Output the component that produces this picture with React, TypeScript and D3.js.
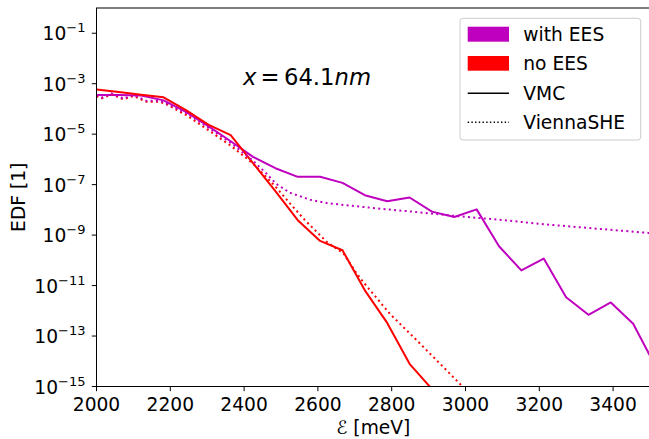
import React from "react";
import * as d3 from "d3";

// VMC energy grid (meV)
const energyVmc = [
  2000, 2060.6, 2121.2, 2181.8, 2242.4, 2303, 2363.6, 2424.2, 2484.8, 2545.4,
  2606, 2666.6, 2727.2, 2787.8, 2848.4, 2909, 2969.6, 3030.2, 3090.8, 3151.4,
  3212, 3272.6, 3333.2, 3393.8, 3454.4, 3515,
];
// log10(EDF)
const withEesVmc = [
  -3.45, -3.45, -3.47, -3.66, -4.12, -4.68, -5.28, -5.9, -6.35, -6.69, -6.69,
  -6.93, -7.42, -7.66, -7.51, -8.07, -8.28, -7.98, -9.44, -10.4, -9.93, -11.46,
  -12.16, -11.67, -12.51, -14.2,
];
const noEesVmc = [
  -3.23, -3.33, -3.44, -3.54, -4.05, -4.62, -5.04, -6.15, -7.26, -8.41, -9.23,
  -9.6, -11.19, -12.48, -14.1, -15.1,
];

// ViennaSHE curves (finer grid)
const energySheNoEes = [
  2000, 2014, 2041, 2073, 2100, 2136, 2172, 2190, 2244, 2303, 2366, 2424, 2484,
  2524, 2565, 2624, 2669, 2705, 2723, 2795, 2868, 2940, 2994, 3039,
];
const noEesShe = [
  -3.49, -3.58, -3.42, -3.62, -3.49, -3.72, -3.72, -3.82, -4.25, -4.84, -5.48,
  -6.16, -7.06, -7.74, -8.41, -9.27, -9.72, -10.52, -10.86, -12.12, -13.17,
  -14.23, -15.03, -15.67,
];
const energySheWithEes = [
  2000, 2014, 2041, 2073, 2100, 2136, 2172, 2190, 2244, 2303, 2366, 2424, 2457,
  2488, 2524, 2579, 2624, 2678, 2795, 2849, 2971, 3091, 3213, 3335, 3500,
];
const withEesShe = [
  -3.45, -3.55, -3.39, -3.59, -3.45, -3.68, -3.68, -3.79, -4.17, -4.74, -5.37,
  -6.05, -6.51, -6.98, -7.32, -7.6, -7.73, -7.82, -7.99, -8.06, -8.24, -8.39,
  -8.57, -8.72, -8.92,
];

const xTicks = [2000, 2200, 2400, 2600, 2800, 3000, 3200, 3400];
const yTickExps = [-1, -3, -5, -7, -9, -11, -13, -15];

const MAGENTA = "#bf00bf";
const RED = "#ff0000";
const FONT = "DejaVu Sans";

export default function App() {
  const width = 649;
  const height = 439;
  const left = 96.5, right = 650, top = 8, bottom = 386.5;

  const x = d3.scaleLinear().domain([2000, 3500]).range([left, right]);
  const y = d3.scaleLog().domain([1e-15, 1]).range([bottom, top]);

  const line = d3
    .line<[number, number]>()
    .x((d) => x(d[0]))
    .y((d) => y(Math.pow(10, d[1])));

  const zip = (es: number[], vs: number[]) =>
    vs.map((v, i) => [es[i], v] as [number, number]);

  const series = [
    { data: zip(energyVmc, withEesVmc), color: MAGENTA, dash: null },
    { data: zip(energyVmc, noEesVmc), color: RED, dash: null },
    { data: zip(energySheNoEes, noEesShe), color: RED, dash: "2 3.3" },
    { data: zip(energySheWithEes, withEesShe), color: MAGENTA, dash: "2 3.3" },
  ];

  const fs = 18.67;
  const legendX = 467.7;
  const legendText = 523.3;

  return (
    <svg
      width={width}
      height={height}
      style={{ position: "absolute", left: 0, top: 0, background: "#fff" }}
      fontFamily={FONT}
    >
      <defs>
        <clipPath id="plot">
          <rect x={left} y={top} width={right - left} height={bottom - top} />
        </clipPath>
      </defs>

      <g clipPath="url(#plot)">
        {series.map((s, i) => (
          <path
            key={i}
            d={line(s.data) || ""}
            fill="none"
            stroke={s.color}
            strokeWidth={2}
            strokeDasharray={s.dash || undefined}
            strokeLinejoin="round"
          />
        ))}
      </g>

      {/* spines */}
      <rect x={left} y={top} width={right - left} height={bottom - top}
        fill="none" stroke="#000" strokeWidth={1} />

      {/* x axis */}
      {xTicks.map((t) => (
        <g key={t} transform={`translate(${x(t)},${bottom})`}>
          <line y2={4.7} stroke="#000" strokeWidth={1} />
          <text y={24.2} textAnchor="middle" fontSize={fs} fill="#000">{t}</text>
        </g>
      ))}
      <text x={(left + right) / 2} y={434} textAnchor="middle" fontSize={fs} fill="#000">
        ℰ [meV]
      </text>

      {/* y axis */}
      {yTickExps.map((e) => (
        <g key={e} transform={`translate(${left},${y(Math.pow(10, e))})`}>
          <line x2={-4.7} stroke="#000" strokeWidth={1} />
          <text x={-11} y={7} textAnchor="end" fontSize={fs} fill="#000">
            10
            <tspan dy={-8} fontSize={13}>{"\u2212" + Math.abs(e)}</tspan>
          </text>
        </g>
      ))}
      <text transform={`translate(25,${(top + bottom) / 2}) rotate(-90)`}
        textAnchor="middle" fontSize={fs} fill="#000">
        EDF [1]
      </text>

      {/* annotation */}
      <text y={85} fontSize={22.7} fill="#000">
        <tspan x={243} fontStyle="italic">x</tspan>
        <tspan x={260.5}>=</tspan>
        <tspan x={284}>64.1</tspan>
        <tspan fontStyle="italic">nm</tspan>
      </text>

      {/* legend */}
      <rect x={460} y={18.3} width={180.7} height={121.7} rx={3}
        fill="#fff" fillOpacity={0.8} stroke="#cccccc" strokeWidth={1} />
      <rect x={legendX} y={26.7} width={41.3} height={15} fill={MAGENTA} />
      <text x={legendText} y={40.5} fontSize={fs} fill="#000">with EES</text>
      <rect x={legendX} y={56} width={41.3} height={14.7} fill={RED} />
      <text x={legendText} y={69.8} fontSize={fs} fill="#000">no EES</text>
      <line x1={legendX} x2={legendX + 41.3} y1={93.3} y2={93.3} stroke="#000" strokeWidth={1.4} />
      <text x={legendText} y={99.5} fontSize={fs} fill="#000">VMC</text>
      <line x1={legendX} x2={legendX + 41.3} y1={122.3} y2={122.3} stroke="#000"
        strokeWidth={1.4} strokeDasharray="1.4 2.3" />
      <text x={legendText} y={128.5} fontSize={fs} fill="#000">ViennaSHE</text>
    </svg>
  );
}
